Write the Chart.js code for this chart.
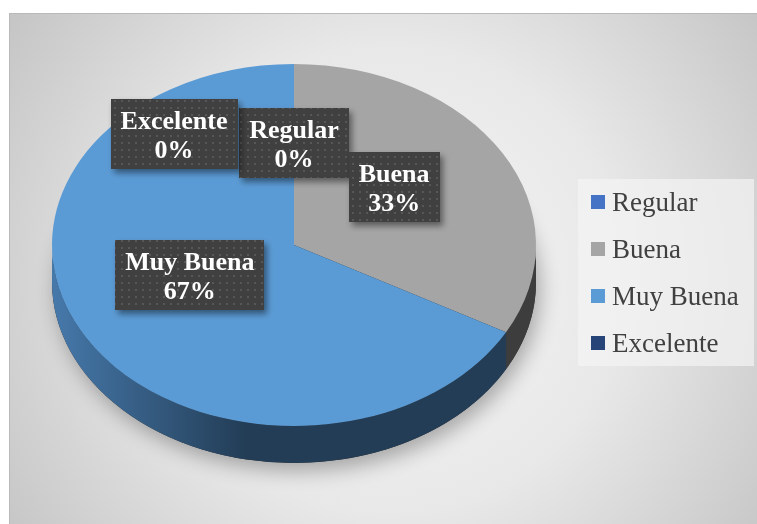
<!DOCTYPE html>
<html>
<head>
<meta charset="utf-8">
<script src="https://cdn.jsdelivr.net/npm/chart.js@4.4.1/dist/chart.umd.min.js"></script>
<style>
    html, body { margin: 0; padding: 0; background: #ffffff; }
    #wrap { width: 757px; height: 524px; position: relative; }
</style>
</head>
<body>
<div id="wrap"><canvas id="chart"></canvas></div>
<script>
// Chart data
const categories = ['Regular', 'Buena', 'Muy Buena', 'Excelente'];
const percentages = [0, 33, 67, 0];

// Colors
const topColors = ['#4472C4', '#A5A5A5', '#5B9BD5', '#264478'];
const sideLight = ['#3a5f9e', '#5a5a5a', '#4679ab', '#2a4c86'];
const sideDark = ['#1f3864', '#3d3d3d', '#233d56', '#1a2f52'];

// 3D look
const tilt = 0.748;      // vertical squash of the pie
const depth = 37;        // thickness of the pie

// Label nudges from the default anchor (px)
const labelNudges = [[0, -11], [-4, -12], [0, -16], [-120, -20]];

const serif = '"Liberation Serif", "Times New Roman", serif';

// Dotted dark pattern for the label boxes
function makeDotPattern(ctx) {
    const c = document.createElement('canvas');
    c.width = 7; c.height = 7;
    const p = c.getContext('2d');
    p.fillStyle = '#404040';
    p.fillRect(0, 0, 7, 7);
    p.fillStyle = '#575757';
    p.fillRect(2, 2, 2, 2);
    return ctx.createPattern(c, 'repeat');
}

const pie3d = {
    id: 'pie3d',
    beforeDraw(chart) {
        const ctx = chart.ctx;
        const w = chart.width, h = chart.height;
        ctx.save();
        const g = ctx.createRadialGradient(390, 280, 0, 390, 280, 470);
        g.addColorStop(0, '#f6f6f6');
        g.addColorStop(0.5, '#e8e8e8');
        g.addColorStop(1, '#c4c4c4');
        ctx.fillStyle = g;
        ctx.fillRect(9, 13, w - 9, h - 13);
        ctx.strokeStyle = '#b9b9b9';
        ctx.lineWidth = 1;
        ctx.strokeRect(9.5, 13.5, w, h);
        ctx.restore();
    },
    beforeDatasetsDraw(chart) {
        const ctx = chart.ctx;
        const meta = chart.getDatasetMeta(0);
        const first = meta.data[0];
        const cx = first.x, cy = first.y;
        const rx = first.outerRadius, ry = rx * tilt;

        // soft shadow under the pie
        ctx.save();
        ctx.shadowColor = 'rgba(0,0,0,0.3)';
        ctx.shadowBlur = 20;
        ctx.shadowOffsetX = 4;
        ctx.shadowOffsetY = 8;
        ctx.fillStyle = '#2a2a2a';
        ctx.beginPath();
        ctx.ellipse(cx, cy + depth, rx, ry, 0, 0, Math.PI * 2);
        ctx.fill();
        ctx.restore();

        // side walls (front half only)
        meta.data.forEach((arc, i) => {
            const s = arc.startAngle, e = arc.endAngle;
            [[-2 * Math.PI, -Math.PI], [0, Math.PI], [2 * Math.PI, 3 * Math.PI]].forEach(([lo, hi]) => {
                const a1 = Math.max(s, lo), a2 = Math.min(e, hi);
                if (a2 - a1 <= 0.0001) return;
                const g = ctx.createLinearGradient(cx - rx, 0, cx + rx, 0);
                g.addColorStop(0, sideLight[i]);
                g.addColorStop(0.4, sideDark[i]);
                g.addColorStop(1, sideDark[i]);
                ctx.fillStyle = g;
                ctx.beginPath();
                ctx.ellipse(cx, cy, rx, ry, 0, a1, a2);
                ctx.ellipse(cx, cy + depth, rx, ry, 0, a2, a1, true);
                ctx.closePath();
                ctx.fill();
            });
        });

        // squash the top face
        ctx.save();
        ctx.translate(cx, cy);
        ctx.scale(1, tilt);
        ctx.translate(-cx, -cy);
    },
    afterDatasetsDraw(chart) {
        const ctx = chart.ctx;
        ctx.restore();

        const meta = chart.getDatasetMeta(0);
        const pattern = makeDotPattern(ctx);
        const lineH = 29, padX = 10, padY = 6;
        ctx.save();
        ctx.font = 'bold 26px ' + serif;
        meta.data.forEach((arc, i) => {
            const mid = (arc.startAngle + arc.endAngle) / 2;
            const rx = arc.outerRadius, ry = rx * tilt;
            const x = arc.x + Math.cos(mid) * rx * 0.5 + labelNudges[i][0];
            const y = arc.y + Math.sin(mid) * ry * 0.5 + labelNudges[i][1];
            const line1 = chart.data.labels[i];
            const line2 = percentages[i] + '%';
            const tw = Math.max(ctx.measureText(line1).width, ctx.measureText(line2).width);
            const bw = tw + padX * 2, bh = lineH * 2 + padY * 2;

            ctx.save();
            ctx.shadowColor = 'rgba(0,0,0,0.45)';
            ctx.shadowBlur = 6;
            ctx.shadowOffsetX = 3;
            ctx.shadowOffsetY = 4;
            ctx.fillStyle = pattern;
            ctx.fillRect(Math.round(x - bw / 2), Math.round(y - bh / 2), Math.round(bw), bh);
            ctx.restore();

            ctx.fillStyle = '#ffffff';
            ctx.textAlign = 'center';
            ctx.textBaseline = 'alphabetic';
            ctx.fillText(line1, x, y - 5);
            ctx.fillText(line2, x, y + 24);
        });
        ctx.restore();
    },
    afterDraw(chart) {
        // legend box on the right
        const ctx = chart.ctx;
        const ds = chart.data.datasets[0];
        const left = 578, top = 179, width = 176, height = 187;
        ctx.save();
        ctx.fillStyle = 'rgba(243,243,243,0.7)';
        ctx.fillRect(left, top, width, height);
        ctx.font = '27px ' + serif;
        ctx.textBaseline = 'alphabetic';
        chart.data.labels.forEach((label, i) => {
            const base = top + 32 + i * 47;
            ctx.fillStyle = ds.backgroundColor[i];
            ctx.fillRect(left + 13, base - 16, 14, 14);
            ctx.fillStyle = '#404040';
            ctx.fillText(label, left + 34, base);
        });
        ctx.restore();
    }
};

new Chart(document.getElementById('chart'), {
    type: 'pie',
    data: {
        labels: categories,
        datasets: [{
            data: percentages,
            backgroundColor: topColors,
            borderWidth: 0,
            clip: false
        }]
    },
    options: {
        responsive: true,
        maintainAspectRatio: false,
        animation: false,
        events: [],
        layout: {
            padding: { left: 52, right: 221, top: 3, bottom: 37 }
        },
        plugins: {
            legend: { display: false },
            tooltip: { enabled: false }
        }
    },
    plugins: [pie3d]
});
</script>
</body>
</html>
